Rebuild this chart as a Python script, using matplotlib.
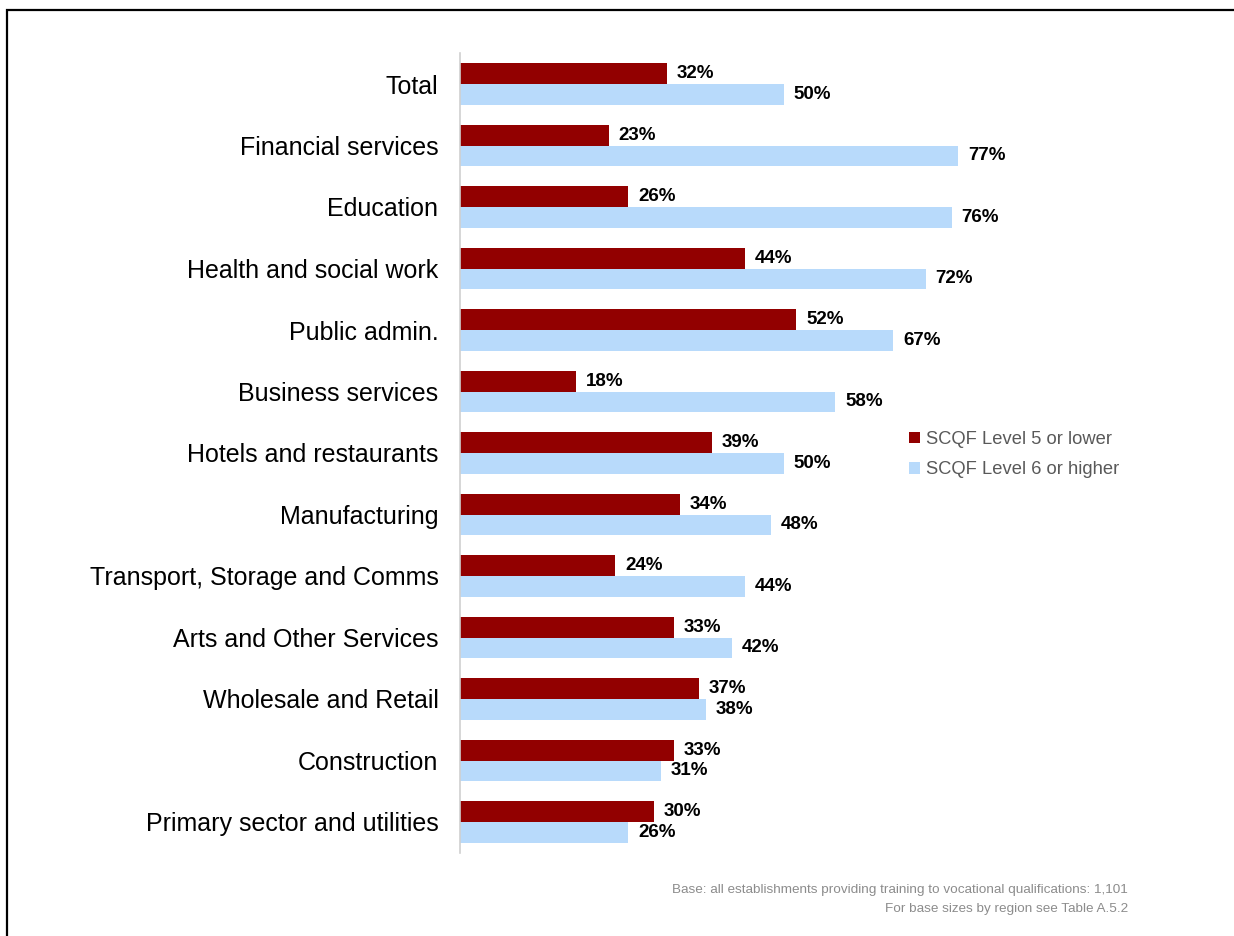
import matplotlib
matplotlib.use("Agg")
import matplotlib.pyplot as plt
import matplotlib.patches as mpatches
import numpy as np

categories = ["Total", "Financial services", "Education", "Health and social work",
              "Public admin.", "Business services", "Hotels and restaurants",
              "Manufacturing", "Transport, Storage and Comms", "Arts and Other Services",
              "Wholesale and Retail", "Construction", "Primary sector and utilities"]
level5 = [32, 23, 26, 44, 52, 18, 39, 34, 24, 33, 37, 33, 30]
level6 = [50, 77, 76, 72, 67, 58, 50, 48, 44, 42, 38, 31, 26]
series_names = ["SCQF Level 5 or lower", "SCQF Level 6 or higher"]

plt.rcParams['font.family'] = ['Liberation Sans', 'DejaVu Sans']

W, H = 1234, 936
fig = plt.figure(figsize=(W / 100, H / 100), dpi=100)

ax_left = 460 / W
ax_top = 1 - 53.25 / H
ax_bottom = 1 - 852.75 / H
ax = fig.add_axes([ax_left, ax_bottom, 647 / W, ax_top - ax_bottom])

y = np.arange(len(categories))
h = 0.34
red = "#920000"
blue = "#B8DAFB"
b1 = ax.barh(y - h / 2, level5, height=h, color=red, label=series_names[0])
b2 = ax.barh(y + h / 2, level6, height=h, color=blue, label=series_names[1])
ax.bar_label(b1, labels=[f"{v}%" for v in level5], padding=7, fontsize=13.5, fontweight='bold')
ax.bar_label(b2, labels=[f"{v}%" for v in level6], padding=7, fontsize=13.5, fontweight='bold')

ax.set_xlim(0, 100)
ax.set_ylim(len(categories) - 0.5, -0.5)
ax.set_yticks(y)
ax.set_yticklabels(categories, fontsize=18)
ax.tick_params(axis='y', length=0, pad=15.5)
ax.set_xticks([])
for s in ['top', 'right', 'bottom']:
    ax.spines[s].set_visible(False)
ax.spines['left'].set_color('#d0d0d0')
ax.spines['left'].set_linewidth(1.2)

leg = fig.legend(handles=[b1, b2], loc='upper left',
                 bbox_to_anchor=(909 / W, 1 - 431 / H), frameon=False,
                 fontsize=13.2, handlelength=0.6, handleheight=0.6,
                 handletextpad=0.3, labelspacing=0.72, borderaxespad=0, borderpad=0)
for t in leg.get_texts():
    t.set_color('#595959')

fig.text(1128 / W, 1 - 890 / H, "Base: all establishments providing training to vocational qualifications: 1,101",
         ha='right', va='center', fontsize=9.7, color='#8c8c8c')
fig.text(1128 / W, 1 - 909 / H, "For base sizes by region see Table A.5.2",
         ha='right', va='center', fontsize=9.7, color='#8c8c8c')

border = mpatches.Rectangle((7 / W, -0.1), 1.2, 1.1 - 10 / H, transform=fig.transFigure,
                            fill=False, edgecolor='black', linewidth=1.6)
fig.add_artist(border)

fig.savefig("out.png", dpi=100)
